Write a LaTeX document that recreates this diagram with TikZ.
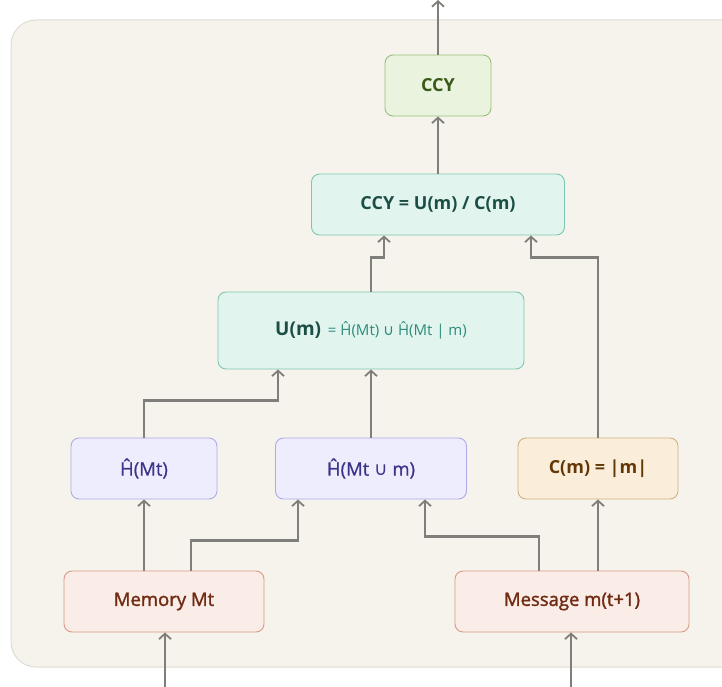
\documentclass[tikz,border=0pt]{standalone}
\usepackage{fontspec}
\setmainfont{Open Sans}
\newfontfamily\semib[FakeBold=1.6]{Open Sans}
\newfontfamily\medf[FakeBold=0.8]{Open Sans}
\newfontfamily\symf{DejaVu Sans}
\usetikzlibrary{arrows.meta,positioning,calc}
\definecolor{bgfill}{HTML}{F5F3EC}
\definecolor{bgline}{HTML}{DEDCD4}
\definecolor{arrc}{HTML}{7F7E7A}
\definecolor{gfill}{HTML}{EAF3DE}
\definecolor{gline}{HTML}{97C07A}
\definecolor{gtext}{HTML}{3B5A1A}
\definecolor{tfill}{HTML}{E1F5EE}
\definecolor{tline}{HTML}{7FC7AE}
\definecolor{ttext}{HTML}{1D4E45}
\definecolor{tlight}{HTML}{2E8B7A}
\definecolor{pfill}{HTML}{EEEDFE}
\definecolor{pline}{HTML}{AFA9EC}
\definecolor{ptext}{HTML}{3C3489}
\definecolor{afill}{HTML}{FAEEDA}
\definecolor{aline}{HTML}{D3B07E}
\definecolor{atext}{HTML}{633806}
\definecolor{cfill}{HTML}{FAECE7}
\definecolor{cline}{HTML}{D99A85}
\definecolor{ctext}{HTML}{712B13}
\newcommand{\cupsym}{{\symf ∪}}
\tikzset{
  box/.style={rounded corners=8pt, line width=0.9pt, minimum height=61pt, inner sep=0pt, font=\fontsize{18.5}{22}\selectfont},
  gbox/.style={box, fill=gfill, draw=gline, text=gtext, font=\fontsize{18}{22}\selectfont\bfseries},
  tbox/.style={box, fill=tfill, draw=tline, text=ttext, font=\fontsize{18}{22}\selectfont\bfseries},
  pbox/.style={box, fill=pfill, draw=pline, text=ptext, font=\fontsize{18.5}{22}\medf},
  abox/.style={box, fill=afill, draw=aline, text=atext, font=\fontsize{18}{22}\selectfont\bfseries},
  cbox/.style={box, fill=cfill, draw=cline, text=ctext, font=\fontsize{18.5}{22}\semib},
  arr/.style={draw=arrc, line width=2.3pt, -{Straight Barb[length=5.5pt,width=12pt,line width=1.8pt]}}
}
\begin{document}
\begin{tikzpicture}[x=1pt,y=-1pt]
\useasboundingbox (0,0) rectangle (722,687);
\clip (0,0) rectangle (722,687);
\draw[fill=bgfill, draw=bgline, line width=1pt, rounded corners=25pt] (11,20) rectangle (760,667);

\node[gbox, minimum width=106pt] (ccy) at (438,85.5) {CCY};
\node[tbox, minimum width=253pt] (ccyeq) at (438,204.5) {CCY = U(m) / C(m)};
\node[tbox, minimum width=306pt, minimum height=77pt] (um) at (371,330.5) {{\fontsize{19}{22}\selectfont U(m)}\,{\mdseries\color{tlight}\fontsize{15}{18}\selectfont\ = Ĥ(Mt) \cupsym{} Ĥ(Mt | m)}};
\node[pbox, minimum width=146pt] (hmt) at (144,468.5) {Ĥ(Mt)};
\node[pbox, minimum width=191pt] (hmtm) at (371,468.5) {Ĥ(Mt \cupsym{} m)};
\node[abox, minimum width=160pt] (cm) at (598,468.5) {C(m) = |m|};
\node[cbox, minimum width=200pt] (mem) at (164,601.5) {Memory Mt};
\node[cbox, minimum width=234pt] (msg) at (572,601.5) {Message m(t+1)};

\coordinate (out) at (438,0);
\coordinate (inmem) at (165,687);
\coordinate (inmsg) at (571,687);

\draw[arr] (ccy.north) -- (out);
\draw[arr] (ccyeq.north) -- (ccy.south);
\draw[arr] (um.north) -- ++(0,-34) -| ([xshift=-54pt]ccyeq.south);
\draw[arr] (cm.north) -- ++(0,-180) -| ([xshift=93pt]ccyeq.south);
\draw[arr] (hmt.north) -- ++(0,-37) -| ([xshift=-93pt]um.south);
\draw[arr] (hmtm.north) -- (um.south);
\draw[arr] (mem.north -| hmt.south) -- (hmt.south);
\draw[arr] ([xshift=27pt]mem.north) -- ++(0,-30) -| ([xshift=-73pt]hmtm.south);
\draw[arr] ([xshift=-33pt]msg.north) -- ++(0,-34) -| ([xshift=54pt]hmtm.south);
\draw[arr] (msg.north -| cm.south) -- (cm.south);
\draw[arr] (inmem) -- (inmem |- mem.south);
\draw[arr] (inmsg) -- (inmsg |- msg.south);
\end{tikzpicture}
\end{document}
